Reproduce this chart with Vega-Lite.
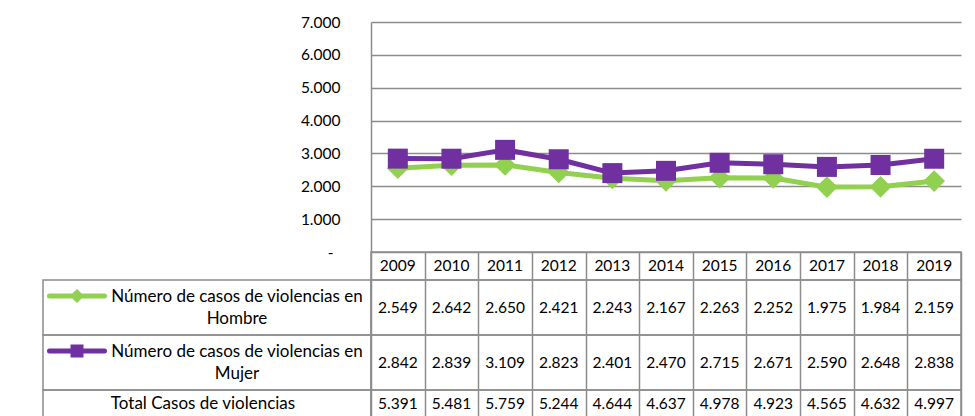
{
  "$schema": "https://vega.github.io/schema/vega-lite/v6.json",
  "autosize": {"type": "pad"},
  "padding": {"left": 38, "top": 15, "right": 17, "bottom": 0},
  "config": {
    "locale": {"number": {"decimal": ",", "thousands": ".", "grouping": [3], "currency": ["", ""]}},
    "font": "Lato",
    "view": {"stroke": "#8c8c8c", "strokeWidth": 1.5},
    "text": {"font": "Lato", "fontSize": 15.5, "color": "#000000"},
    "axis": {"labelFont": "Lato", "labelFontSize": 15.5, "labelColor": "#000000", "gridColor": "#8c8c8c", "gridWidth": 1.5, "domainColor": "#8c8c8c", "domainWidth": 1.5}
  },
  "datasets": {
    "casos": [
      {"year": "2009", "serie": "Hombre", "casos": 2549},
      {"year": "2010", "serie": "Hombre", "casos": 2642},
      {"year": "2011", "serie": "Hombre", "casos": 2650},
      {"year": "2012", "serie": "Hombre", "casos": 2421},
      {"year": "2013", "serie": "Hombre", "casos": 2243},
      {"year": "2014", "serie": "Hombre", "casos": 2167},
      {"year": "2015", "serie": "Hombre", "casos": 2263},
      {"year": "2016", "serie": "Hombre", "casos": 2252},
      {"year": "2017", "serie": "Hombre", "casos": 1975},
      {"year": "2018", "serie": "Hombre", "casos": 1984},
      {"year": "2019", "serie": "Hombre", "casos": 2159},
      {"year": "2009", "serie": "Mujer", "casos": 2842},
      {"year": "2010", "serie": "Mujer", "casos": 2839},
      {"year": "2011", "serie": "Mujer", "casos": 3109},
      {"year": "2012", "serie": "Mujer", "casos": 2823},
      {"year": "2013", "serie": "Mujer", "casos": 2401},
      {"year": "2014", "serie": "Mujer", "casos": 2470},
      {"year": "2015", "serie": "Mujer", "casos": 2715},
      {"year": "2016", "serie": "Mujer", "casos": 2671},
      {"year": "2017", "serie": "Mujer", "casos": 2590},
      {"year": "2018", "serie": "Mujer", "casos": 2648},
      {"year": "2019", "serie": "Mujer", "casos": 2838},
      {"year": "2009", "serie": "Total", "casos": 5391},
      {"year": "2010", "serie": "Total", "casos": 5481},
      {"year": "2011", "serie": "Total", "casos": 5759},
      {"year": "2012", "serie": "Total", "casos": 5244},
      {"year": "2013", "serie": "Total", "casos": 4644},
      {"year": "2014", "serie": "Total", "casos": 4637},
      {"year": "2015", "serie": "Total", "casos": 4978},
      {"year": "2016", "serie": "Total", "casos": 4923},
      {"year": "2017", "serie": "Total", "casos": 4565},
      {"year": "2018", "serie": "Total", "casos": 4632},
      {"year": "2019", "serie": "Total", "casos": 4997}
    ],
    "filas": [
      {"serie": "Hombre", "label": "Número de casos de violencias en\nHombre"},
      {"serie": "Mujer", "label": "Número de casos de violencias en\nMujer"},
      {"serie": "Total", "label": "Total Casos de violencias"}
    ]
  },
  "columns": 2,
  "spacing": 0,
  "bounds": "flush",
  "align": "each",
  "resolve": {"scale": {"x": "independent", "y": "independent", "color": "independent"}},
  "concat": [
    {
      "width": 328, "height": 230, "view": {"stroke": null},
      "data": {"values": []},
      "mark": "text"
    },
    {
      "width": 590, "height": 230, "view": {"stroke": null},
      "data": {"name": "casos"},
      "transform": [{"filter": "datum.serie != 'Total'"}],
      "encoding": {
        "x": {"field": "year", "type": "ordinal", "bandPosition": 0.5, "scale": {"type": "band", "paddingInner": 0, "paddingOuter": 0}, "axis": null},
        "y": {"field": "casos", "type": "quantitative", "scale": {"domain": [0, 7000], "nice": false},
              "axis": {"title": null, "values": [0, 1000, 2000, 3000, 4000, 5000, 6000, 7000], "format": ",d",
                       "labelExpr": "datum.value == 0 ? '-' : datum.label",
                       "labelPadding": {"condition": {"test": "datum.value == 0", "value": 38}, "value": 31},
                       "grid": true, "ticks": false, "domain": true}},
        "color": {"field": "serie", "type": "nominal", "scale": {"domain": ["Hombre", "Mujer"], "range": ["#92D050", "#7030A0"]}, "legend": null}
      },
      "layer": [
        {"transform": [{"filter": "datum.serie == 'Hombre'"}], "mark": {"type": "line", "strokeWidth": 5, "strokeJoin": "round"}},
        {"transform": [{"filter": "datum.serie == 'Hombre'"}], "mark": {"type": "point", "shape": "diamond", "size": 470, "filled": true, "opacity": 1}},
        {"transform": [{"filter": "datum.serie == 'Mujer'"}], "mark": {"type": "line", "strokeWidth": 5, "strokeJoin": "round"}},
        {"transform": [{"filter": "datum.serie == 'Mujer'"}], "mark": {"type": "point", "shape": "square", "size": 400, "filled": true, "opacity": 1}}
      ]
    },
    {
      "width": 328, "height": 28, "view": {"stroke": null},
      "data": {"values": []},
      "mark": "text"
    },
    {
      "width": 590, "height": 28,
      "data": {"name": "casos"},
      "transform": [{"filter": "datum.serie == 'Hombre'"}],
      "mark": {"type": "text", "align": "center", "baseline": "middle"},
      "encoding": {
        "x": {"field": "year", "type": "ordinal", "bandPosition": 0.5, "scale": {"type": "band", "paddingInner": 0, "paddingOuter": 0},
              "axis": {"title": null, "labels": false, "ticks": false, "domain": false, "grid": true, "tickBand": "extent"}},
        "text": {"field": "year"}
      }
    },
    {
      "width": 328, "height": 55,
      "data": {"name": "filas"},
      "transform": [{"filter": "datum.serie == 'Hombre'"}],
      "encoding": {"x": {"field": "serie", "type": "nominal", "bandPosition": 0.5, "scale": {"type": "band", "paddingInner": 0, "paddingOuter": 0}, "axis": null}},
      "layer": [
        {"mark": {"type": "point", "shape": "M-1,0L1,0M0,-0.13L0.13,0L0,0.13L-0.13,0Z", "size": 3025, "filled": true, "fill": "#92D050", "stroke": "#92D050", "strokeWidth": 5, "strokeCap": "round", "opacity": 1, "xOffset": -130, "yOffset": -11.5}},
        {"mark": {"type": "text", "align": "center", "baseline": "middle", "lineBreak": "\n", "lineHeight": 22, "fontSize": 17, "xOffset": 30, "yOffset": -11}, "encoding": {"text": {"field": "label"}}}
      ]
    },
    {
      "width": 590, "height": 55,
      "data": {"name": "casos"},
      "transform": [{"filter": "datum.serie == 'Hombre'"}],
      "mark": {"type": "text", "align": "center", "baseline": "middle"},
      "encoding": {
        "x": {"field": "year", "type": "ordinal", "bandPosition": 0.5, "scale": {"type": "band", "paddingInner": 0, "paddingOuter": 0},
              "axis": {"title": null, "labels": false, "ticks": false, "domain": false, "grid": true, "tickBand": "extent"}},
        "text": {"field": "casos", "type": "quantitative", "format": ",d"}
      }
    },
    {
      "width": 328, "height": 55,
      "data": {"name": "filas"},
      "transform": [{"filter": "datum.serie == 'Mujer'"}],
      "encoding": {"x": {"field": "serie", "type": "nominal", "bandPosition": 0.5, "scale": {"type": "band", "paddingInner": 0, "paddingOuter": 0}, "axis": null}},
      "layer": [
        {"mark": {"type": "point", "shape": "M-1,0L1,0M-0.145,-0.145L0.145,-0.145L0.145,0.145L-0.145,0.145Z", "size": 3025, "filled": true, "fill": "#7030A0", "stroke": "#7030A0", "strokeWidth": 5, "strokeCap": "round", "opacity": 1, "xOffset": -130, "yOffset": -11.5}},
        {"mark": {"type": "text", "align": "center", "baseline": "middle", "lineBreak": "\n", "lineHeight": 22, "fontSize": 17, "xOffset": 30, "yOffset": -11}, "encoding": {"text": {"field": "label"}}}
      ]
    },
    {
      "width": 590, "height": 55,
      "data": {"name": "casos"},
      "transform": [{"filter": "datum.serie == 'Mujer'"}],
      "mark": {"type": "text", "align": "center", "baseline": "middle"},
      "encoding": {
        "x": {"field": "year", "type": "ordinal", "bandPosition": 0.5, "scale": {"type": "band", "paddingInner": 0, "paddingOuter": 0},
              "axis": {"title": null, "labels": false, "ticks": false, "domain": false, "grid": true, "tickBand": "extent"}},
        "text": {"field": "casos", "type": "quantitative", "format": ",d"}
      }
    },
    {
      "width": 328, "height": 28,
      "data": {"name": "filas"},
      "transform": [{"filter": "datum.serie == 'Total'"}],
      "mark": {"type": "text", "align": "center", "baseline": "middle", "fontSize": 17, "xOffset": -4},
      "encoding": {
        "x": {"field": "serie", "type": "nominal", "bandPosition": 0.5, "scale": {"type": "band", "paddingInner": 0, "paddingOuter": 0}, "axis": null},
        "text": {"field": "label"}
      }
    },
    {
      "width": 590, "height": 28,
      "data": {"name": "casos"},
      "transform": [{"filter": "datum.serie == 'Total'"}],
      "mark": {"type": "text", "align": "center", "baseline": "middle"},
      "encoding": {
        "x": {"field": "year", "type": "ordinal", "bandPosition": 0.5, "scale": {"type": "band", "paddingInner": 0, "paddingOuter": 0},
              "axis": {"title": null, "labels": false, "ticks": false, "domain": false, "grid": true, "tickBand": "extent"}},
        "text": {"field": "casos", "type": "quantitative", "format": ",d"}
      }
    }
  ]
}
